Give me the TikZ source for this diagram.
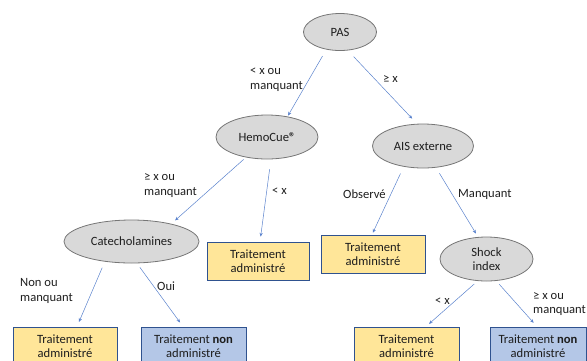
\documentclass[tikz,border=0pt]{standalone}
\usepackage{fontspec}
\setmainfont{Carlito}
\usetikzlibrary{arrows.meta,shapes.geometric}
\definecolor{edgeblue}{RGB}{90,130,205}
\definecolor{ovalfill}{RGB}{217,217,217}
\definecolor{ovaldraw}{RGB}{118,118,118}
\definecolor{yellowfill}{RGB}{255,230,153}
\definecolor{bluefill}{RGB}{180,199,231}
\definecolor{boxdraw}{RGB}{47,82,143}
\definecolor{inkgray}{RGB}{30,30,30}

\begin{document}
\begin{tikzpicture}[x=1pt,y=-1pt,
  every node/.style={font=\fontsize{12.6}{14.5}\selectfont, text=inkgray},
  oval/.style={ellipse, draw=ovaldraw, fill=ovalfill, line width=0.8pt, inner sep=0pt, align=center},
  okbox/.style={rectangle, draw=boxdraw, fill=yellowfill, line width=0.9pt, inner sep=0pt,
                align=center, minimum height=38pt},
  nobox/.style={okbox, fill=bluefill},
  lbl/.style={anchor=west, align=left, inner sep=0pt},
  arr/.style={draw=edgeblue, line width=0.5pt, -{Stealth[length=3.8pt,width=3.2pt]}}
]
\clip (0,0) rectangle (587,360);

% decision nodes
\node[oval, minimum width=73pt, minimum height=37pt] (pas) at (340,32) {PAS};
\node[oval, minimum width=102pt, minimum height=44pt] (hemo) at (267,137) {HemoCue\textbf{®}};
\node[oval, minimum width=101pt, minimum height=44pt] (ais) at (423,146) {AIS externe};
\node[oval, minimum width=135pt, minimum height=43pt] (cat) at (131.5,241.5) {Catecholamines};
\node[oval, minimum width=93pt, minimum height=44pt] (shock) at (486.5,259) {Shock\\index};

% outcomes
\node[okbox, minimum width=102pt] (box1) at (258,261) {Traitement\\administré};
\node[okbox, minimum width=104pt] (box2) at (373,254) {Traitement\\administré};
\node[okbox, minimum width=104pt] (box3) at (65,346) {Traitement\\administré};
\node[nobox, minimum width=105pt] (box4) at (193.5,346) {Traitement \textbf{non}\\administré};
\node[okbox, minimum width=105pt] (box5) at (406.5,346) {Traitement\\administré};
\node[nobox, minimum width=96pt] (box6) at (538,346) {Traitement \textbf{non}\\administré};

% branches
\draw[arr, shorten <=7.5pt, shorten >=1pt] (pas.232) -- (hemo.45);
\draw[arr, shorten <=8.5pt, shorten >=7pt] (pas.293) -- (ais.105);
\draw[arr, shorten <=3pt, shorten >=5pt] (hemo.224) -- (cat.24);
\draw[arr, shorten <=10pt, shorten >=5pt] (hemo.280) -- ([xshift=2pt]box1.north);
\draw[arr, shorten <=7.5pt, shorten >=2pt] (ais.227) -- ([xshift=-1pt]box2.north);
\draw[arr, shorten <=6.5pt, shorten >=4pt] (ais.301) -- (shock.111);
\draw[arr, shorten <=6.5pt, shorten >=5pt] (cat.217) -- ([xshift=12pt]box3.north);
\draw[arr, shorten <=5pt, shorten >=5pt] (cat.284) -- ([xshift=-10.5pt]box4.north);
\draw[arr, shorten <=4.5pt, shorten >=4pt] (shock.248) -- ([xshift=19.5pt]box5.north);
\draw[arr, shorten <=4.5pt, shorten >=5pt] (shock.294) -- ([xshift=-1pt]box6.north);

% branch labels
\node[lbl] (l1) at (250,79.5) {< x ou\\manquant};
\node[lbl] (l2) at (383,79) {≥ x};
\node[lbl] (l3) at (144,185.5) {≥ x ou\\manquant};
\node[lbl] (l4) at (272,191) {< x};
\node[lbl] (l5) at (343,194) {Observé};
\node[lbl] (l6) at (458,194) {Manquant};
\node[lbl] (l7) at (20,291) {Non ou\\manquant};
\node[lbl] (l8) at (157,286) {Oui};
\node[lbl] (l9) at (435,301) {< x};
\node[lbl] (l10) at (533,304) {≥ x ou\\manquant};
\end{tikzpicture}
\end{document}
